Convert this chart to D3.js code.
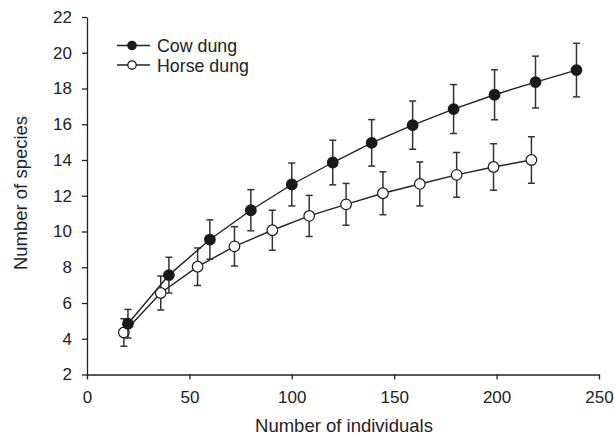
<!DOCTYPE html>
<html>
<head>
<meta charset="utf-8">
<script src="https://cdn.jsdelivr.net/npm/d3@7"></script>
<style>
  body { margin: 0; background: #fff; }
  svg { font-family: "Liberation Sans", Arial, sans-serif; }
</style>
</head>
<body>
<div id="chart"></div>
<script>
// cow dung: x, mean species, error
const cowX = [20, 40, 60, 80, 100, 120, 139, 159, 179, 199, 219, 239];
const cowY = [4.84, 7.56, 9.55, 11.19, 12.63, 13.86, 14.96, 15.95, 16.85, 17.65, 18.36, 19.03];
const cowErr = [0.8, 1.0, 1.1, 1.15, 1.2, 1.25, 1.3, 1.35, 1.37, 1.4, 1.45, 1.5];

// horse dung
const horseX = [18, 36, 54, 72, 90.5, 108.5, 126.5, 144.5, 162.5, 180.5, 198.5, 217];
const horseY = [4.35, 6.56, 8.03, 9.17, 10.07, 10.87, 11.52, 12.14, 12.66, 13.17, 13.61, 14.0];
const horseErr = [0.77, 0.95, 1.05, 1.1, 1.12, 1.15, 1.17, 1.2, 1.23, 1.25, 1.3, 1.3];

const xTicks = [0, 50, 100, 150, 200, 250];
const yTicks = [2, 4, 6, 8, 10, 12, 14, 16, 18, 20, 22];

const width = 615, height = 437;
const margin = { top: 17, right: 16, bottom: 62.5, left: 87 };

const svg = d3.select('#chart').append('svg')
    .attr('width', width)
    .attr('height', height);

const x = d3.scaleLinear().domain([0, 250]).range([margin.left, width - margin.right]);
const y = d3.scaleLinear().domain([2, 22]).range([height - margin.bottom, margin.top]);

// axes
svg.append('g')
    .attr('transform', `translate(0,${y(2)})`)
    .call(d3.axisBottom(x).tickValues(xTicks).tickSize(5).tickPadding(11).tickSizeOuter(0))
    .call(g => g.selectAll('text').attr('font-size', 17).attr('fill', '#222'))
    .call(g => g.selectAll('line, path').attr('stroke', '#222').attr('stroke-width', 1.3));

svg.append('g')
    .attr('transform', `translate(${x(0)},0)`)
    .call(d3.axisLeft(y).tickValues(yTicks).tickSize(5).tickPadding(10).tickSizeOuter(0))
    .call(g => g.selectAll('text').attr('font-size', 17).attr('fill', '#222'))
    .call(g => g.selectAll('line, path').attr('stroke', '#222').attr('stroke-width', 1.3));

svg.append('text')
    .attr('x', 344).attr('y', 432)
    .attr('text-anchor', 'middle')
    .attr('font-size', 18.5).attr('fill', '#222')
    .text('Number of individuals');

svg.append('text')
    .attr('transform', `translate(26.5,193) rotate(-90)`)
    .attr('text-anchor', 'middle')
    .attr('font-size', 18.5).attr('fill', '#222')
    .text('Number of species');

function drawSeries(xs, ys, errs, fill) {
    const data = xs.map((d, i) => ({ x: d, y: ys[i], e: errs[i] }));
    const g = svg.append('g');

    g.append('path')
        .datum(data)
        .attr('fill', 'none')
        .attr('stroke', '#222')
        .attr('stroke-width', 1.4)
        .attr('d', d3.line().x(d => x(d.x)).y(d => y(d.y)));

    const eb = g.selectAll('g.err').data(data).enter().append('g')
        .attr('stroke', '#333').attr('stroke-width', 1.5);
    eb.append('line')
        .attr('x1', d => x(d.x)).attr('x2', d => x(d.x))
        .attr('y1', d => y(d.y - d.e)).attr('y2', d => y(d.y + d.e));
    eb.append('line')
        .attr('x1', d => x(d.x) - 3.5).attr('x2', d => x(d.x) + 3.5)
        .attr('y1', d => y(d.y + d.e)).attr('y2', d => y(d.y + d.e));
    eb.append('line')
        .attr('x1', d => x(d.x) - 3.5).attr('x2', d => x(d.x) + 3.5)
        .attr('y1', d => y(d.y - d.e)).attr('y2', d => y(d.y - d.e));

    g.selectAll('circle').data(data).enter().append('circle')
        .attr('cx', d => x(d.x)).attr('cy', d => y(d.y))
        .attr('r', 5.3)
        .attr('fill', fill)
        .attr('stroke', '#1a1a1a')
        .attr('stroke-width', 1.2);
}

drawSeries(horseX, horseY, horseErr, '#fff');
drawSeries(cowX, cowY, cowErr, '#1a1a1a');

// legend
const legend = [
    { label: 'Cow dung', fill: '#1a1a1a', y: 45.5 },
    { label: 'Horse dung', fill: '#fff', y: 65 }
];
const lg = svg.append('g');
legend.forEach(d => {
    lg.append('line')
        .attr('x1', 117).attr('x2', 150)
        .attr('y1', d.y).attr('y2', d.y)
        .attr('stroke', '#222').attr('stroke-width', 1.4);
    lg.append('circle')
        .attr('cx', 132).attr('cy', d.y).attr('r', 4.2)
        .attr('fill', d.fill).attr('stroke', '#1a1a1a').attr('stroke-width', 1.2);
    lg.append('text')
        .attr('x', 157).attr('y', d.y + 6.5)
        .attr('font-size', 17.8).attr('fill', '#222')
        .text(d.label);
});
</script>
</body>
</html>
